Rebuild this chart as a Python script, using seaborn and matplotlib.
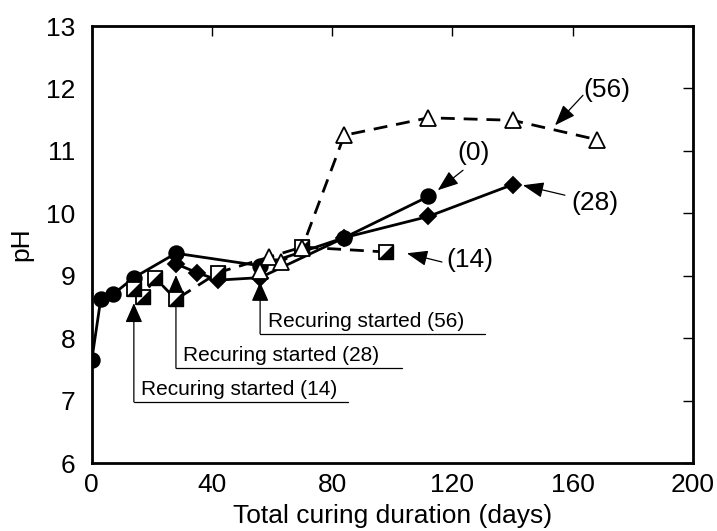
import numpy as np
import pandas as pd
import seaborn as sns
import matplotlib
matplotlib.use("Agg")
import matplotlib.pyplot as plt
from matplotlib.path import Path

# pH of specimens against total curing duration; the number in brackets is
# the day on which recuring started (0 = continuous curing)
days_0 = [0, 3, 7, 14, 28, 56, 84, 112]
ph_0 = [7.65, 8.63, 8.70, 8.97, 9.36, 9.16, 9.61, 10.27]

days_14 = [14, 17, 21, 28, 42, 70, 98]
ph_14 = [8.78, 8.66, 8.97, 8.62, 9.05, 9.46, 9.38]

days_28 = [28, 35, 42, 56, 84, 112, 140]
ph_28 = [9.19, 9.05, 8.93, 8.97, 9.61, 9.95, 10.46]

days_56 = [56, 59, 63, 70, 84, 112, 140, 168]
ph_56 = [9.08, 9.30, 9.22, 9.45, 11.25, 11.53, 11.49, 11.18]

recure_days = [14, 28, 56]
recure_labels = ["Recuring started (14)", "Recuring started (28)", "Recuring started (56)"]
series_labels = ["(0)", "(14)", "(28)", "(56)"]

x_ticks = [0, 40, 80, 120, 160, 200]
y_ticks = [6, 7, 8, 9, 10, 11, 12, 13]

sns.set_style("white")
plt.rcParams["font.family"] = ["Liberation Sans", "DejaVu Sans"]
for key in ("text.color", "axes.labelcolor", "xtick.color", "ytick.color"):
    plt.rcParams[key] = "black"

fig = plt.figure(figsize=(7.17, 5.31), dpi=100)
ax = fig.add_axes([0.128, 0.128, 0.8385, 0.823])

df0 = pd.DataFrame({"day": days_0, "ph": ph_0})
df14 = pd.DataFrame({"day": days_14, "ph": ph_14})
df28 = pd.DataFrame({"day": days_28, "ph": ph_28})
df56 = pd.DataFrame({"day": days_56, "ph": ph_56})

dash = (0, (5, 3.2))
common = dict(ax=ax, x="day", y="ph", color="black", lw=2.0,
              markeredgecolor="black", markeredgewidth=1.3, errorbar=None)

sns.lineplot(data=df0, marker="o", markersize=10.5, markerfacecolor="black",
             zorder=3, **common)
sns.lineplot(data=df28, marker="D", markersize=8.5, markerfacecolor="black",
             zorder=4, **common)
sns.lineplot(data=df14, marker="s", markersize=10.5, markerfacecolor="white",
             linestyle=dash, zorder=5, **common)
# lower-right half of each square is filled black
half = Path([(-1, -1), (1, -1), (1, 1), (-1, -1)],
            [Path.MOVETO, Path.LINETO, Path.LINETO, Path.CLOSEPOLY])
sns.lineplot(data=df14, x="day", y="ph", ax=ax, marker=half, markersize=10.5,
             markerfacecolor="black", markeredgecolor="black",
             markeredgewidth=1.0, linestyle="none", errorbar=None, zorder=5.5)
sns.lineplot(data=df56, marker="^", markersize=11.5, markerfacecolor="white",
             linestyle=dash, zorder=6, **common)

# "Recuring started" call-outs: underline, vertical leader and arrowhead
underline_y = [6.98, 7.52, 8.07]
underline_end = [85.2, 103.2, 130.8]
tip_y = [8.56, 9.01, 8.90]
for d, lab, uy, ue, ty in zip(recure_days, recure_labels, underline_y,
                              underline_end, tip_y):
    ax.plot([d, ue], [uy, uy], color="black", lw=0.9, zorder=2)
    ax.annotate("", xy=(d, ty), xytext=(d, uy),
                arrowprops=dict(arrowstyle="-|>,head_length=0.75,head_width=0.33",
                                color="black", lw=0.9, mutation_scale=16,
                                shrinkA=0, shrinkB=0),
                zorder=2)
    ax.text(d + 2.5, uy + 0.05, lab, fontsize=15, ha="left", va="bottom",
            zorder=2)

# series labels with pointing arrows
label_xy = [(127.1, 10.97), (125.8, 9.25), (167.4, 10.16), (171.4, 11.97)]
arrow_from = [(123.5, 10.69), (116.5, 9.22), (157.4, 10.29), (163.4, 11.89)]
arrow_to = [(115.1, 10.37), (104.8, 9.36), (143.4, 10.45), (154.1, 11.41)]
for lab, (tx, ty), (fx, fy), (sx, sy) in zip(series_labels, label_xy,
                                              arrow_from, arrow_to):
    ax.text(tx, ty, lab, fontsize=19, ha="center", va="center")
    ax.annotate("", xy=(sx, sy), xytext=(fx, fy),
                arrowprops=dict(arrowstyle="-|>,head_length=0.8,head_width=0.3",
                                color="black", lw=0.9, mutation_scale=16,
                                shrinkA=0, shrinkB=0))

ax.set_xlim(0, 200)
ax.set_ylim(6, 13)
ax.set_xticks(x_ticks)
ax.set_yticks(y_ticks)
ax.set_xlabel("Total curing duration (days)", fontsize=19, labelpad=5)
ax.set_ylabel("pH", fontsize=19, labelpad=9)
ax.tick_params(axis="both", direction="in", length=7, width=1.0,
               labelsize=19, top=True, right=True, color="black",
               labelcolor="black")
ax.tick_params(axis="x", pad=7)
ax.tick_params(axis="y", pad=12)
for sp in ax.spines.values():
    sp.set_linewidth(2.0)
    sp.set_color("black")
    sp.set_visible(True)

fig.savefig("out.png", dpi=100)
